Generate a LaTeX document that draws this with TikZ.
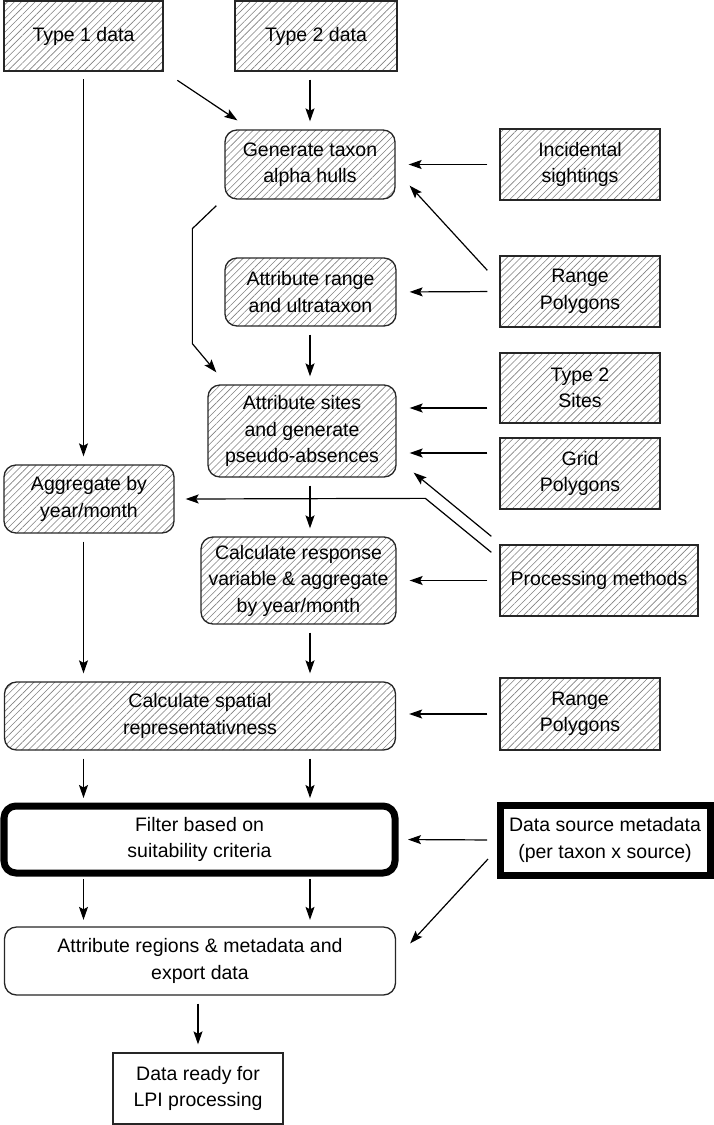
\documentclass[tikz,border=0pt]{standalone}
\usepackage{fontspec}
\setmainfont{Liberation Sans}
\usetikzlibrary{patterns.meta,arrows.meta}

\begin{document}
\begin{tikzpicture}[x=1pt, y=-1pt,
        every node/.style={font=\fontsize{19.5}{26.5}\selectfont, align=center, inner sep=0pt},
        hatched/.style={draw=black!85, line width=1.3pt, pattern={Lines[angle=45,distance=4.9pt,line width=0.6pt]}, pattern color=black!50},
        srcbox/.style={hatched, minimum width=160pt, minimum height=71pt},
        stepbox/.style={hatched, rounded corners=12pt},
        plainbox/.style={draw=black!85, line width=1.3pt, fill=white},
        heavybox/.style={draw=black, line width=7pt, fill=white},
        arr/.style={-{Stealth[length=13pt,width=9pt,inset=2.5pt]}, line width=1.2pt, shorten <=8pt, shorten >=8pt},
        harr/.style={arr, shorten <=12pt, shorten >=13pt},
        darr/.style={arr, shorten <=0pt, shorten >=0pt}]
        \useasboundingbox (0,0) rectangle (714,1125);

        \node[srcbox, minimum width=159pt, minimum height=70pt] (tone) at (83.5,36) {Type 1 data};
        \node[srcbox, minimum width=162pt, minimum height=70pt] (ttwo) at (316,36) {Type 2 data};
        \node[stepbox, minimum width=170pt, minimum height=69pt] (hulls) at (310,164.5) {Generate taxon\\alpha hulls};
        \node[srcbox] (incid) at (580,164.5) {Incidental\\sightings};
        \node[srcbox] (rangeA) at (580,291.5) {Range\\Polygons};
        \node[stepbox, minimum width=171pt, minimum height=68pt] (attrrange) at (310.5,292) {Attribute range\\and ultrataxon};
        \node[srcbox, minimum height=70pt] (sitestwo) at (580,388) {Type 2\\Sites};
        \node[srcbox] (grid) at (580,473.5) {Grid\\Polygons};
        \node[stepbox, minimum width=188pt, minimum height=92pt] (attrsites) at (302,431) {Attribute sites\\and generate\\pseudo-absences};
        \node[stepbox, minimum width=170pt, minimum height=68pt] (aggr) at (89,499) {Aggregate by\\year/month};
        \node[stepbox, minimum width=195pt, minimum height=87pt] (resp) at (298.5,580.5) {Calculate response\\variable \& aggregate\\by year/month};
        \node[srcbox, minimum width=198pt] (procm) at (599,580.5) {Processing methods};
        \node[stepbox, minimum width=391pt, minimum height=68pt] (spatial) at (200,716) {Calculate spatial\\representativness};
        \node[srcbox, minimum height=72pt] (rangeB) at (580,714) {Range\\Polygons};
        \node[heavybox, rounded corners=12pt, minimum width=391pt, minimum height=67pt] (filter) at (199.5,839.5) {Filter based on\\suitability criteria};
        \node[heavybox, minimum width=210pt, minimum height=70pt] (dsmeta) at (605,840) {Data source metadata\\(per taxon x source)};
        \node[plainbox, rounded corners=12pt, minimum width=391pt, minimum height=68pt] (regions) at (200,961) {Attribute regions \& metadata and\\export data};
        \node[plainbox, minimum width=170pt, minimum height=71pt] (ready) at (198,1088.5) {Data ready for\\LPI processing};

        \draw[arr] (tone.south) -- (aggr.north -| tone.south);
        \draw[darr] ([shift={(14,9)}]tone.south east) -- ([shift={(13,-9)}]hulls.north west);
        \draw[arr] (ttwo.south -| hulls) -- (hulls.north);
        \draw[harr] (incid.west) -- (hulls.east);
        \draw[darr] ([shift={(-12,15)}]rangeA.north west) -- ([shift={(14,-14)}]hulls.south east);
        \draw[harr] (rangeA.west) -- (attrrange.east);
        \draw[darr] ([shift={(-8,6)}]hulls.south west) -- ++(-24,23) -- ++(0,115) -- ([shift={(9,-12)}]attrsites.north west);
        \draw[arr] (attrrange.south -| hulls) -- (attrsites.north -| hulls);
        \draw[harr] ([shift={(0,20)}]sitestwo.west) -- ([shift={(0,-23)}]attrsites.east);
        \draw[harr] ([shift={(0,-20.5)}]grid.west) -- ([shift={(0,22)}]attrsites.east);
        \draw[darr] ([shift={(-8,-8)}]procm.north west) -- ([shift={(17,-5)}]attrsites.south east);
        \draw[darr] ([shift={(-8,8)}]procm.north west) -- ++(-66,-54) -- ([shift={(11,0)}]aggr.east);
        \draw[harr] (procm.west) -- (resp.east);
        \draw[arr] (attrsites.south -| hulls) -- (resp.north -| hulls);
        \draw[arr] (aggr.south -| tone) -- (spatial.north -| tone);
        \draw[arr] (resp.south -| hulls) -- (spatial.north -| hulls);
        \draw[harr] (rangeB.west) -- (rangeB.west -| spatial.east);
        \draw[arr, shorten >=4.5pt] (spatial.south -| tone) -- (filter.north -| tone);
        \draw[arr, shorten >=4.5pt] (spatial.south -| hulls) -- (filter.north -| hulls);
        \draw[harr, shorten <=9.5pt, shorten >=9.5pt] (dsmeta.west) -- (filter.east);
        \draw[arr, shorten <=2.5pt, shorten >=6.5pt] (filter.south -| tone) -- (regions.north -| tone);
        \draw[arr, shorten <=2.5pt, shorten >=6.5pt] (filter.south -| hulls) -- (regions.north -| hulls);
        \draw[darr] ([shift={(-8.5,-19.5)}]dsmeta.south west) -- ([shift={(14,17)}]regions.north east);
        \draw[arr] (regions.south -| ready) -- (ready.north);
    \end{tikzpicture}
\end{document}
